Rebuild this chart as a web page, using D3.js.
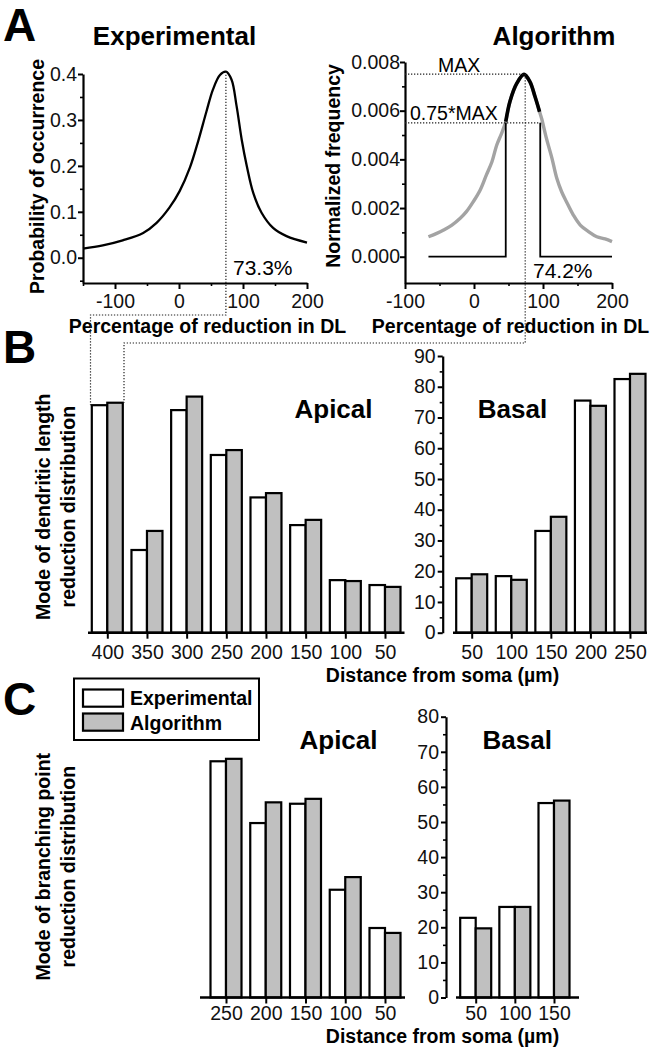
<!DOCTYPE html>
<html>
<head>
<meta charset="utf-8">
<script src="https://cdn.jsdelivr.net/npm/d3@7"></script>
<style>
body{margin:0;background:#fff}
svg{display:block;font-family:"Liberation Sans",Arial,Helvetica,sans-serif}
</style>
</head>
<body>
<script>
// ---- panel A : distributions
const expX = [-150, -119, -88, -56, -35, -15, 1, 17, 30, 43, 53, 64, 73.3, 82, 90, 98, 106, 116, 129, 147, 168, 200];
const expY = [0.020, 0.027, 0.038, 0.054, 0.076, 0.109, 0.145, 0.196, 0.254, 0.319, 0.366, 0.398, 0.405, 0.388, 0.330, 0.257, 0.199, 0.141, 0.098, 0.065, 0.047, 0.033];
const algX = [-66, -54, -44, -32, -20, -11, -1, 9, 18, 26, 33, 40, 46, 52, 62, 72.5, 81, 88.5, 95, 98, 105, 113, 120, 127, 134, 144, 154, 166, 178, 190, 200];
const algY = [0.00082, 0.00096, 0.00110, 0.00130, 0.00158, 0.00185, 0.00226, 0.00274, 0.00336, 0.00390, 0.00459, 0.00507, 0.00555, 0.00637, 0.00712, 0.00749, 0.00719, 0.00657, 0.00596, 0.00568, 0.00486, 0.00404, 0.00322, 0.00267, 0.00226, 0.00171, 0.00130, 0.00103, 0.00082, 0.00073, 0.00062];
const expMode = 73.3, algMode = 74.2;
const algMax = 0.0075, algCut = 0.0055;
const cutLeft = 46, cutRight = 96;

// ---- panel B : mode of dendritic length reduction
const apicalDL = ["400", "350", "300", "250", "200", "150", "100", "50"];
const apicalDLExp = [74.0, 26.9, 72.4, 57.8, 44.0, 35.0, 17.1, 15.5];
const apicalDLAlg = [74.8, 33.1, 76.8, 59.4, 45.4, 36.7, 16.8, 14.9];
const basalDL = ["50", "100", "150", "200", "250"];
const basalDLExp = [17.7, 18.4, 33.1, 75.5, 82.5];
const basalDLAlg = [19.0, 17.2, 37.7, 73.8, 84.2];

// ---- panel C : mode of branching point reduction
const apicalBP = ["250", "200", "150", "100", "50"];
const apicalBPExp = [67.3, 49.7, 55.2, 30.7, 19.8];
const apicalBPAlg = [68.0, 55.6, 56.6, 34.3, 18.4];
const basalBP = ["50", "100", "150"];
const basalBPExp = [22.7, 25.8, 55.4];
const basalBPAlg = [19.7, 25.8, 56.1];

const grey = "#c0c0c0";
const bw = 15.5;

const svg = d3.select("body").append("svg")
  .attr("width", 650)
  .attr("height", 1055);

function styleAxis(g){
  g.attr("font-family", null).attr("font-size", null);
  g.selectAll("path.domain").attr("stroke", "#000").attr("stroke-width", 2.2);
  g.selectAll(".tick line").attr("stroke", "#000").attr("stroke-width", 2);
  g.selectAll(".tick text").attr("font-size", 19.5).attr("fill", "#111");
  return g;
}

function minor(g){
  g.selectAll("path.domain").remove();
  g.selectAll(".tick text").remove();
  g.selectAll(".tick line").attr("stroke", "#000").attr("stroke-width", 1.6);
}

function text(x, y, str, size, weight, anchor){
  return svg.append("text")
    .attr("x", x).attr("y", y)
    .attr("font-size", size)
    .attr("font-weight", weight || "normal")
    .attr("text-anchor", anchor || "start")
    .text(str);
}

function vtext(x, y, str, size){
  return svg.append("text")
    .attr("transform", `translate(${x},${y}) rotate(-90)`)
    .attr("font-size", size)
    .attr("font-weight", "bold")
    .attr("text-anchor", "middle")
    .text(str);
}

function dotted(d){
  svg.append("path").attr("d", d)
    .attr("fill", "none")
    .attr("stroke", "#222")
    .attr("stroke-width", 1.2)
    .attr("stroke-dasharray", "1.3,1.7");
}

// ================= A : Experimental =================
const xA1 = d3.scaleLinear().domain([-150, 200]).range([83, 307]);
const yA1 = d3.scaleLinear().domain([-0.055, 0.4]).range([283, 74]);

svg.append("g").attr("transform", "translate(0,283)")
  .call(d3.axisBottom(xA1).tickValues([-150, -50, 50, 150]).tickSize(3).tickSizeOuter(0))
  .call(minor);
svg.append("g").attr("transform", "translate(0,283)")
  .call(d3.axisBottom(xA1).tickValues([-100, 0, 100, 200]).tickFormat(d => String(d))
    .tickSize(6).tickSizeOuter(0).tickPadding(5))
  .call(styleAxis);
svg.append("g").attr("transform", "translate(83,0)")
  .call(d3.axisLeft(yA1).tickValues([-0.05, 0.05, 0.15, 0.25, 0.35]).tickSize(3).tickSizeOuter(0))
  .call(minor);
svg.append("g").attr("transform", "translate(83,0)")
  .call(d3.axisLeft(yA1).tickValues([0, 0.1, 0.2, 0.3, 0.4]).tickFormat(d3.format(".1f"))
    .tickSize(5).tickSizeOuter(0).tickPadding(1))
  .call(styleAxis);

const expLine = d3.line()
  .x(i => xA1(expX[i]))
  .y(i => yA1(expY[i]))
  .curve(d3.curveCatmullRom.alpha(0.5));
svg.append("path")
  .attr("d", expLine(d3.range(expX.length)))
  .attr("fill", "none").attr("stroke", "#000").attr("stroke-width", 2.3);

// ================= A : Algorithm =================
const xA2 = d3.scaleLinear().domain([-100, 200]).range([405, 612]);
const yA2 = d3.scaleLinear().domain([-0.00108, 0.008]).range([283, 62]);

svg.append("g").attr("transform", "translate(0,283)")
  .call(d3.axisBottom(xA2).tickValues([-50, 50, 150]).tickSize(3).tickSizeOuter(0))
  .call(minor);
svg.append("g").attr("transform", "translate(0,283)")
  .call(d3.axisBottom(xA2).tickValues([-100, 0, 100, 200]).tickFormat(d => String(d))
    .tickSize(6).tickSizeOuter(0).tickPadding(5))
  .call(styleAxis);
svg.append("g").attr("transform", "translate(405,0)")
  .call(d3.axisLeft(yA2).tickValues([0.001, 0.003, 0.005, 0.007]).tickSize(3).tickSizeOuter(0))
  .call(minor);
svg.append("g").attr("transform", "translate(405,0)")
  .call(d3.axisLeft(yA2).tickValues([0, 0.002, 0.004, 0.006, 0.008]).tickFormat(d3.format(".3f"))
    .tickSize(5).tickSizeOuter(0).tickPadding(0))
  .call(styleAxis);

const algLine = d3.line()
  .x(i => xA2(algX[i]))
  .y(i => yA2(algY[i]))
  .curve(d3.curveCatmullRom.alpha(0.5));
svg.append("path")
  .attr("d", algLine(d3.range(algX.length)))
  .attr("fill", "none").attr("stroke", "#a3a3a3").attr("stroke-width", 3.4)
  .attr("stroke-linejoin", "round");
const topIdx = d3.range(algX.length).filter(i => algX[i] >= cutLeft && algX[i] <= cutRight);
svg.append("path")
  .attr("d", algLine(topIdx))
  .attr("fill", "none").attr("stroke", "#000").attr("stroke-width", 3.6)
  .attr("stroke-linejoin", "round");

// threshold step
const step = d3.path();
step.moveTo(xA2(algX[0]), yA2(0));
step.lineTo(xA2(cutLeft), yA2(0));
step.lineTo(xA2(cutLeft), yA2(algCut));
step.moveTo(xA2(cutRight), yA2(algCut));
step.lineTo(xA2(cutRight), yA2(0));
step.lineTo(xA2(200), yA2(0));
svg.append("path").attr("d", step.toString())
  .attr("fill", "none").attr("stroke", "#000").attr("stroke-width", 1.8);

dotted(`M405,${yA2(algMax)}H${xA2(algMode)}`);
dotted(`M405,${yA2(algCut)}H${xA2(cutRight)}`);

text(438, 72, "MAX", 19.5);
text(410, 120, "0.75*MAX", 19.5);
text(233, 275, expMode + "%", 21);
text(533, 278, algMode + "%", 21);

// titles and labels A
text(3, 41, "A", 46, "bold");
text(174.5, 45, "Experimental", 26, "bold", "middle");
text(554, 45, "Algorithm", 26, "bold", "middle");
vtext(44, 176.5, "Probability of occurrence", 19.5);
vtext(340, 166, "Normalized frequency", 19.5);
text(207.5, 333, "Percentage of reduction in DL", 19.5, "bold", "middle");
text(510.5, 333, "Percentage of reduction in DL", 19.5, "bold", "middle");

// ================= bar panels =================
function bars(x, y, cats, expV, algV){
  const g = svg.append("g");
  g.selectAll("rect.exp").data(cats).join("rect")
    .attr("class", "exp")
    .attr("x", d => x(d) - bw).attr("width", bw)
    .attr("y", (d, i) => y(expV[i])).attr("height", (d, i) => y(0) - y(expV[i]))
    .attr("fill", "#fff").attr("stroke", "#000").attr("stroke-width", 2.2);
  g.selectAll("rect.alg").data(cats).join("rect")
    .attr("class", "alg")
    .attr("x", d => x(d)).attr("width", bw)
    .attr("y", (d, i) => y(algV[i])).attr("height", (d, i) => y(0) - y(algV[i]))
    .attr("fill", grey).attr("stroke", "#000").attr("stroke-width", 2.2);
}

function catAxis(x, y, x0, x1, pad){
  const g = svg.append("g").attr("transform", `translate(0,${y(0)})`)
    .call(d3.axisBottom(x).tickSize(6).tickSizeOuter(0).tickPadding(pad))
    .call(styleAxis);
  g.select("path.domain").remove();
  g.append("line").attr("x1", x0).attr("x2", x1)
    .attr("stroke", "#000").attr("stroke-width", 2.4);
}

function valAxis(y, xPos, top, minorVals){
  svg.append("g").attr("transform", `translate(${xPos},0)`)
    .call(d3.axisLeft(y).tickValues(minorVals).tickSize(3).tickSizeOuter(0))
    .call(minor);
  svg.append("g").attr("transform", `translate(${xPos},0)`)
    .call(d3.axisLeft(y).tickValues(d3.range(0, top + 1, 10)).tickSize(5).tickSizeOuter(0).tickPadding(2))
    .call(styleAxis);
}

// ---- B
const yB = d3.scaleLinear().domain([0, 90]).range([632.7, 356]);
const xBa = d3.scalePoint().domain(apicalDL).range([107.3, 385]);
const xBb = d3.scalePoint().domain(basalDL).range([471.7, 630]);

bars(xBa, yB, apicalDL, apicalDLExp, apicalDLAlg);
bars(xBb, yB, basalDL, basalDLExp, basalDLAlg);
catAxis(xBa, yB, 88, 404.5, 6.5);
catAxis(xBb, yB, 453, 647, 6.5);
valAxis(yB, 442.7, 90, d3.range(5, 90, 10));

text(3, 363, "B", 46, "bold");
text(333.5, 418, "Apical", 26, "bold", "middle");
text(512.5, 418, "Basal", 26, "bold", "middle");
vtext(50, 506.7, "Mode of dendritic length", 19.5);
vtext(75, 506.7, "reduction distribution", 19.5);
text(442.5, 682, "Distance from soma (µm)", 19.5, "bold", "middle");

// connectors between A and B
const peakA = d3.max(expY);
dotted(`M${xA1(expMode)},${yA1(peakA)}V315H${xBa("400") - bw - 1.3}V${yB(apicalDLExp[0])}`);
dotted(`M${xA2(algMode)},${yA2(algMax)}V343H${xBa("400") + bw + 1.2}V${yB(apicalDLAlg[0])}`);

// ---- C
const yC = d3.scaleLinear().domain([0, 80]).range([997.5, 716.7]);
const xCa = d3.scalePoint().domain(apicalBP).range([226, 385]);
const xCb = d3.scalePoint().domain(basalBP).range([475.7, 554]);

bars(xCa, yC, apicalBP, apicalBPExp, apicalBPAlg);
bars(xCb, yC, basalBP, basalBPExp, basalBPAlg);
catAxis(xCa, yC, 200, 405, 3);
catAxis(xCb, yC, 456, 579, 3);
valAxis(yC, 446, 80, d3.range(5, 80, 10));

text(3, 715, "C", 46, "bold");
text(338.5, 749, "Apical", 26, "bold", "middle");
text(517.3, 749, "Basal", 26, "bold", "middle");
vtext(50, 866.7, "Mode of branching point", 19.5);
vtext(75, 866.7, "reduction distribution", 19.5);
text(442.5, 1043, "Distance from soma (µm)", 19.5, "bold", "middle");

// legend
const legend = svg.append("g");
legend.append("rect").attr("x", 74).attr("y", 678.5).attr("width", 185).attr("height", 61.5)
  .attr("fill", "#fff").attr("stroke", "#000").attr("stroke-width", 2);
[["Experimental", "#fff"], ["Algorithm", grey]].forEach((d, i) => {
  legend.append("rect").attr("x", 83).attr("y", 689.5 + i * 24).attr("width", 40).attr("height", 17.2)
    .attr("fill", d[1]).attr("stroke", "#000").attr("stroke-width", 2.2);
  legend.append("text").attr("x", 130).attr("y", 705 + i * 25)
    .attr("font-size", 19.5).attr("font-weight", "bold").text(d[0]);
});
</script>
</body>
</html>
